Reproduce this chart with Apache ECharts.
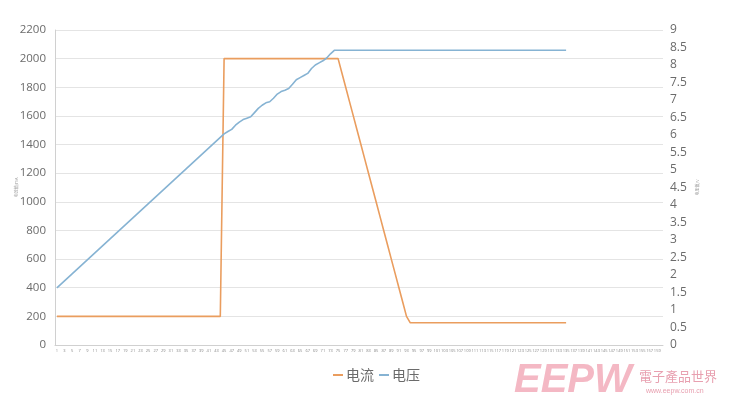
<!DOCTYPE html>
<html>
<head>
<meta charset="utf-8">
<script src="https://cdn.jsdelivr.net/npm/echarts@6/dist/echarts.min.js"></script>
<style>html,body{margin:0;padding:0;background:#fff}#c{width:729px;height:405px}</style>
</head>
<body>
<div id="c"></div>
<script>
// categories 1..160
const categoryCount = 160;
const categories = [];
for (let k = 1; k <= categoryCount; k++) categories.push(String(k));

// 电流 (mA), left axis
const current = [
  200,200,200,200,200,200,200,200,200,200,
  200,200,200,200,200,200,200,200,200,200,
  200,200,200,200,200,200,200,200,200,200,
  200,200,200,200,200,200,200,200,200,200,
  200,200,200,200,2000,2000,2000,2000,2000,2000,
  2000,2000,2000,2000,2000,2000,2000,2000,2000,2000,
  2000,2000,2000,2000,2000,2000,2000,2000,2000,2000,
  2000,2000,2000,2000,2000,1900,1800,1700,1600,1500,
  1400,1300,1200,1100,1000,900,800,700,600,500,
  400,300,200,155,155,155,155,155,155,155,
  155,155,155,155,155,155,155,155,155,155,
  155,155,155,155,155,155,155,155,155,155,
  155,155,155,155,155,155,155,155,155,155,
  155,155,155,155,155
];

// 电压 (V), right axis
const voltage = [
  1.63,1.73,1.83,1.93,2.03,2.13,2.23,2.33,2.43,2.53,
  2.63,2.73,2.83,2.93,3.03,3.13,3.23,3.33,3.43,3.53,
  3.63,3.73,3.83,3.93,4.03,4.13,4.23,4.33,4.43,4.53,
  4.63,4.73,4.83,4.93,5.03,5.13,5.23,5.33,5.43,5.53,
  5.63,5.73,5.83,5.93,6.03,6.10,6.16,6.28,6.37,6.44,
  6.48,6.52,6.64,6.76,6.85,6.92,6.95,7.05,7.17,7.24,
  7.28,7.33,7.45,7.58,7.64,7.70,7.76,7.90,8.00,8.06,
  8.12,8.20,8.32,8.42,8.42,8.42,8.42,8.42,8.42,8.42,
  8.42,8.42,8.42,8.42,8.42,8.42,8.42,8.42,8.42,8.42,
  8.42,8.42,8.42,8.42,8.42,8.42,8.42,8.42,8.42,8.42,
  8.42,8.42,8.42,8.42,8.42,8.42,8.42,8.42,8.42,8.42,
  8.42,8.42,8.42,8.42,8.42,8.42,8.42,8.42,8.42,8.42,
  8.42,8.42,8.42,8.42,8.42,8.42,8.42,8.42,8.42,8.42,
  8.42,8.42,8.42,8.42,8.42
];

const seriesNames = ['电流', '电压'];
const leftAxisName = '电流值/mA';
const rightAxisName = '电压值/V';

const chart = echarts.init(document.getElementById('c'));
const gray = '#6b6b6b';
chart.setOption({
  animation: false,
  backgroundColor: '#ffffff',
  textStyle: { fontFamily: 'Open Sans, Noto Sans CJK SC, sans-serif' },
  grid: { left: 55, right: 66, top: 30, bottom: 60, containLabel: false, outerBoundsMode: 'none' },
  legend: {
    bottom: 18, left: 328,
    itemWidth: 10, itemHeight: 2, itemGap: 5,
    icon: 'rect',
    textStyle: { color: gray, fontSize: 14, fontFamily: 'Noto Sans CJK SC', padding: [0, 0, 0, -2] },
    data: seriesNames
  },
  xAxis: {
    type: 'category',
    data: categories,
    boundaryGap: true,
    axisLine: { lineStyle: { color: '#d0d0d0' } },
    axisTick: { show: false },
    axisLabel: { interval: 1, fontSize: 4, color: '#888', margin: 4 }
  },
  yAxis: [
    {
      type: 'value', min: 0, max: 2200, interval: 200,
      name: leftAxisName, nameLocation: 'middle', nameGap: 37, nameRotate: 90, nameMoveOverlap: false,
      nameTextStyle: { fontSize: 4, color: '#999', fontFamily: 'Noto Sans CJK SC' },
      axisLine: { show: true, lineStyle: { color: '#d0d0d0' } },
      axisTick: { show: false },
      axisLabel: { color: gray, fontSize: 11.5, margin: 9, formatter: function (v) { return String(v); } },
      splitLine: { lineStyle: { color: '#e4e4e4' } }
    },
    {
      type: 'value', min: 0, max: 9, interval: 0.5,
      name: rightAxisName, nameLocation: 'middle', nameGap: 32, nameRotate: 90, nameMoveOverlap: false,
      nameTextStyle: { fontSize: 4, color: '#999', fontFamily: 'Noto Sans CJK SC' },
      axisLine: { show: false },
      axisTick: { show: false },
      axisLabel: { color: gray, fontSize: 12, margin: 7, formatter: function (v) { return String(v); } },
      splitLine: { show: false }
    }
  ],
  series: [
    {
      name: seriesNames[0], type: 'line', yAxisIndex: 0, data: current,
      symbol: 'none', lineStyle: { color: '#EA9D5E', width: 1.6 },
      itemStyle: { color: '#EA9D5E' }
    },
    {
      name: seriesNames[1], type: 'line', yAxisIndex: 1, data: voltage,
      symbol: 'none', lineStyle: { color: '#86B3D3', width: 1.6 },
      itemStyle: { color: '#86B3D3' }
    }
  ],
  graphic: [
    { type: 'text', left: 514, top: 361, style: { text: 'EEPW', fill: '#F4B8C4', font: 'italic bold 40px Liberation Sans' } },
    { type: 'text', left: 639, top: 370, style: { text: '電子產品世界', fill: '#E8A0B0', font: '13px Noto Sans CJK TC' } },
    { type: 'text', left: 646, top: 388, style: { text: 'www.eepw.com.cn', fill: '#E8A0B0', font: '7px Liberation Sans' } }
  ]
});
</script>
</body>
</html>
